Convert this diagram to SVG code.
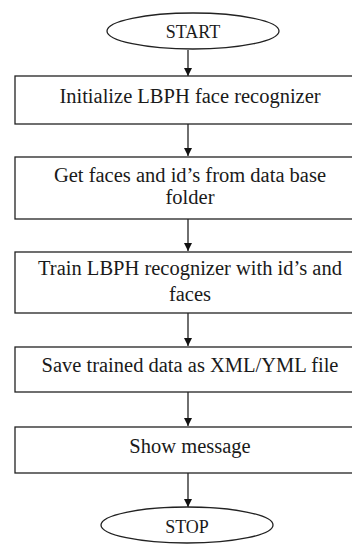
<svg xmlns="http://www.w3.org/2000/svg" width="352" height="544" viewBox="0 0 352 544">
<style>
.s{fill:#fff;stroke:#222;stroke-width:1.3}
.t{font-family:"Liberation Serif","Times New Roman",serif;font-size:20.5px;fill:#1a1a1a;text-anchor:middle}
.e{font-size:18px}
.c{stroke:#222;stroke-width:1.3;fill:none;marker-end:url(#a)}
</style>
<defs>
<marker id="a" markerWidth="8" markerHeight="8" refX="8" refY="4" orient="auto" markerUnits="userSpaceOnUse">
<path d="M0,0 L8,4 L0,8 Z" fill="#111"/>
</marker>
</defs>
<rect width="352" height="544" fill="#fff"/>
<g id="connectors">
<path class="c" d="M188,50 V76"/>
<path class="c" d="M188,124 V156"/>
<path class="c" d="M188,219 V251"/>
<path class="c" d="M188,313 V346"/>
<path class="c" d="M188,392 V426"/>
<path class="c" d="M188,473 V507"/>
</g>
<g id="start">
<ellipse class="s" cx="193" cy="31" rx="86" ry="18"/>
<text class="t e" x="193" y="38">START</text>
</g>
<g id="init">
<rect class="s" x="15" y="76" width="346" height="48"/>
<text class="t" x="190" y="103">Initialize LBPH face recognizer</text>
</g>
<g id="getfaces">
<rect class="s" x="15" y="157" width="346" height="62"/>
<text class="t" x="190" y="182">Get faces and id’s from data base</text>
<text class="t" x="190" y="204">folder</text>
</g>
<g id="train">
<rect class="s" x="15" y="252" width="346" height="61"/>
<text class="t" x="190" y="275">Train LBPH recognizer with id’s and</text>
<text class="t" x="190" y="301">faces</text>
</g>
<g id="save">
<rect class="s" x="15" y="347" width="346" height="45"/>
<text class="t" x="190" y="372">Save trained data as XML/YML file</text>
</g>
<g id="show">
<rect class="s" x="15" y="427" width="346" height="46"/>
<text class="t" x="190" y="453">Show message</text>
</g>
<g id="stop">
<ellipse class="s" cx="187" cy="525" rx="86" ry="18"/>
<text class="t e" x="187" y="533">STOP</text>
</g>
</svg>
